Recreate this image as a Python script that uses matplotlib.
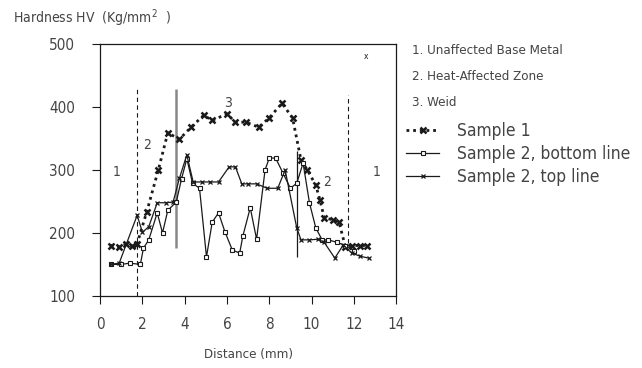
import numpy as np
import matplotlib
matplotlib.use('Agg')
import matplotlib.pyplot as plt
from matplotlib import font_manager

# narrow face if one is installed, else plain DejaVu
names = {f.name for f in font_manager.fontManager.ttflist}
narrow = [n for n in ['Liberation Sans Narrow', 'DejaVu Sans Condensed'] if n in names]
plt.rcParams['font.family'] = narrow + ['DejaVu Sans']
plt.rcParams['font.stretch'] = 'condensed'

#--------------------- DATA ----------------------------------------------
# Sample 1 (dotted line)
s1_x = [0.5, 0.9, 1.2, 1.5, 1.75, 2.2, 2.75, 3.2, 3.75, 4.3, 4.9, 5.3, 6.0, 6.4, 6.9,
        7.5, 8.0, 8.6, 9.1, 9.5, 9.8, 10.2, 10.4, 10.6, 11.0, 11.3, 11.6, 11.9, 12.3, 12.6]
s1_y = [180, 178, 182, 180, 183, 233, 300, 359, 349, 368, 387, 379, 389, 376, 376,
        368, 383, 406, 383, 316, 300, 276, 252, 224, 221, 217, 178, 180, 180, 180]

# Sample 2, bottom line
s2b_x = [0.5, 1.0, 1.4, 1.9, 2.05, 2.3, 2.7, 2.95, 3.2, 3.6, 3.85, 4.1, 4.37, 4.7, 5.03,
         5.3, 5.6, 5.9, 6.25, 6.6, 6.75, 7.1, 7.4, 7.8, 8.0, 8.3, 8.65, 9.0, 9.3, 9.6,
         9.9, 10.2, 10.5, 10.8, 11.2, 11.6, 12.0]
s2b_y = [150, 150, 152, 150, 176, 189, 232, 200, 236, 249, 286, 318, 279, 271, 162,
         217, 232, 202, 173, 168, 195, 240, 190, 300, 319, 319, 295, 271, 279, 311,
         248, 208, 189, 189, 185, 180, 172]

# Sample 2, top line
s2t_x = [0.5, 0.9, 1.75, 2.0, 2.3, 2.7, 3.1, 3.45, 3.75, 4.1, 4.4, 4.8, 5.2, 5.6, 6.1,
         6.4, 6.7, 7.0, 7.4, 7.9, 8.4, 8.75, 9.3, 9.5, 9.9, 10.3, 10.6, 11.1, 11.5, 11.9,
         12.3, 12.7]
s2t_y = [150, 152, 228, 201, 210, 248, 248, 249, 287, 324, 281, 281, 281, 281, 305,
         305, 278, 278, 278, 271, 271, 300, 208, 189, 189, 190, 185, 160, 181, 168,
         163, 160]

zone_labels = ['1. Unaffected Base Metal', '2. Heat-Affected Zone', '3. Weid']
series_labels = ['Sample 1', 'Sample 2, bottom line', 'Sample 2, top line']
x_ticks = [0, 2, 4, 6, 8, 10, 12, 14]
y_ticks = [100, 200, 300, 400, 500]

ink = '#1a1a1a'
txt = '#444444'

#--------------------- FIGURE ----------------------------------------------
fig = plt.figure(figsize=(6.42, 3.68), dpi=100)
ax = fig.add_axes([0.156, 0.196, 0.461, 0.684])

# zone boundaries
ax.vlines(1.75, 100, 431, colors=ink, lw=0.8, linestyles=(0, (4, 3)))
ax.vlines(3.6, 176, 428, colors='#888888', lw=1.8)
ax.vlines(9.3, 162, 330, colors=ink, lw=0.9)
ax.vlines(11.73, 184, 419, colors=ink, lw=0.8, linestyles=(0, (4, 3)))

l1, = ax.plot(s1_x, s1_y, color=ink, ls=(0, (1, 1.4)), lw=2.0, marker='x',
              ms=4, mew=1.8)
l2, = ax.plot(s2b_x, s2b_y, color=ink, ls='-', lw=0.9, marker='s', ms=3.5,
              mfc='white', mew=0.8)
l3, = ax.plot(s2t_x, s2t_y, color=ink, ls='-', lw=0.9, marker='x', ms=3.5, mew=0.9)

# zone numbers inside the plot
for xx, yy, s in [(0.8, 297, '1'), (2.23, 340, '2'), (6.03, 406, '3'),
                  (10.74, 281, '2'), (13.06, 297, '1')]:
    ax.text(xx, yy, s, fontsize=10, color=txt, ha='center', va='center')
ax.text(12.6, 481, 'x', fontsize=6, color=ink, ha='center', va='center')

ax.set_xlim(0, 14)
ax.set_ylim(100, 500)
ax.set_xticks(x_ticks)
ax.set_yticks(y_ticks)
ax.tick_params(labelsize=11, colors=ink, labelcolor=txt, length=6, width=0.8)
ax.tick_params(axis='y', direction='out', pad=12)
ax.tick_params(axis='x', direction='out', pad=9)
for sp in ax.spines.values():
    sp.set_linewidth(0.9)
    sp.set_color(ink)

ax.set_xlabel('Distance (mm)', fontsize=9.5, color=txt, labelpad=12)
fig.text(0.02, 1 - 18 / 368, 'Hardness HV  (Kg/mm$^2$  )', fontsize=10, color=txt,
         ha='left', va='center')

# zone text entries
for i, s in enumerate(zone_labels):
    fig.text(0.642, 1 - (50 + 26 * i) / 368, s, fontsize=9.5, color=txt,
             ha='left', va='center')

fig.legend([l1, l2, l3], series_labels, loc='upper left',
           bbox_to_anchor=(0.622, 1 - 115 / 368), frameon=False, fontsize=12.5,
           handlelength=1.9, handletextpad=1.0, labelspacing=0.3,
           borderaxespad=0, labelcolor=txt)

fig.savefig('out.png', dpi=100)
